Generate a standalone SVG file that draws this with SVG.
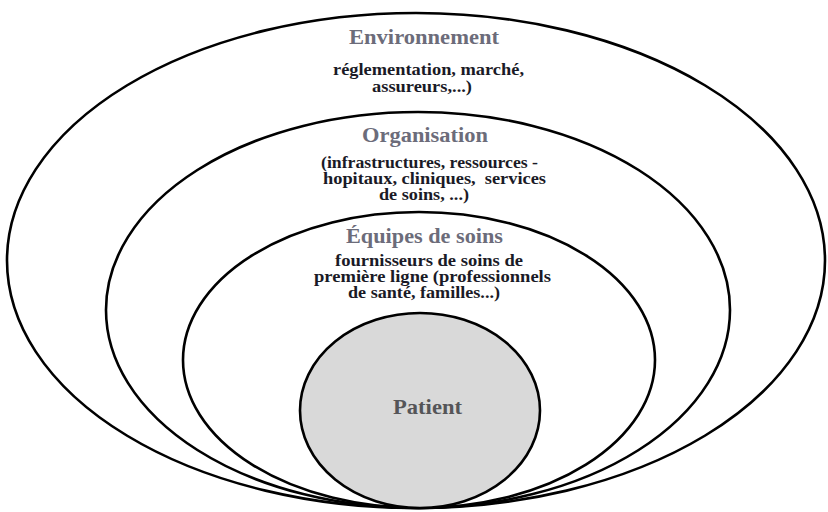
<svg xmlns="http://www.w3.org/2000/svg" width="828" height="512" viewBox="0 0 828 512">
  <style>
    .ring { fill: none; stroke: #000; stroke-width: 2.6; }
    .core { fill: #d9d9d9; stroke: #000; stroke-width: 2.6; }
    .title { font-family: "Liberation Serif", "Times New Roman", serif; font-weight: bold; font-size: 20px; fill: #6c6c7a; }
    .body { font-family: "Liberation Serif", "Times New Roman", serif; font-weight: bold; font-size: 16px; fill: #1a1a26; white-space: pre; }
    .core-label { font-family: "Liberation Serif", "Times New Roman", serif; font-weight: bold; font-size: 21px; fill: #555558; }
  </style>

  <g id="environnement">
    <ellipse class="ring" cx="416" cy="260.5" rx="409" ry="247.5"/>
    <text class="title" x="349" y="44" textLength="150" lengthAdjust="spacingAndGlyphs">Environnement</text>
    <text class="body" x="333" y="75" textLength="191" lengthAdjust="spacingAndGlyphs">réglementation, marché,</text>
    <text class="body" x="372" y="92" textLength="100" lengthAdjust="spacingAndGlyphs">assureurs,...)</text>
  </g>

  <g id="organisation">
    <ellipse class="ring" cx="418" cy="310" rx="312" ry="198"/>
    <text class="title" x="362" y="142" textLength="126" lengthAdjust="spacingAndGlyphs">Organisation</text>
    <text class="body" x="321" y="168" textLength="217" lengthAdjust="spacingAndGlyphs">(infrastructures, ressources -</text>
    <text class="body" x="323" y="184" textLength="223" lengthAdjust="spacingAndGlyphs">hopitaux, cliniques,  services</text>
    <text class="body" x="379" y="200" textLength="90" lengthAdjust="spacingAndGlyphs">de soins, ...)</text>
  </g>

  <g id="equipes">
    <ellipse class="ring" cx="419" cy="360" rx="236" ry="148"/>
    <text class="title" x="346" y="243" textLength="157" lengthAdjust="spacingAndGlyphs">Équipes de soins</text>
    <text class="body" x="335" y="266" textLength="188" lengthAdjust="spacingAndGlyphs">fournisseurs de soins de</text>
    <text class="body" x="314" y="282" textLength="237" lengthAdjust="spacingAndGlyphs">première ligne (professionnels</text>
    <text class="body" x="348" y="298" textLength="152" lengthAdjust="spacingAndGlyphs">de santé, familles...)</text>
  </g>

  <g id="patient">
    <ellipse class="core" cx="420" cy="410.5" rx="120" ry="97.5"/>
    <text class="core-label" x="393" y="414" textLength="69" lengthAdjust="spacingAndGlyphs">Patient</text>
  </g>
</svg>
